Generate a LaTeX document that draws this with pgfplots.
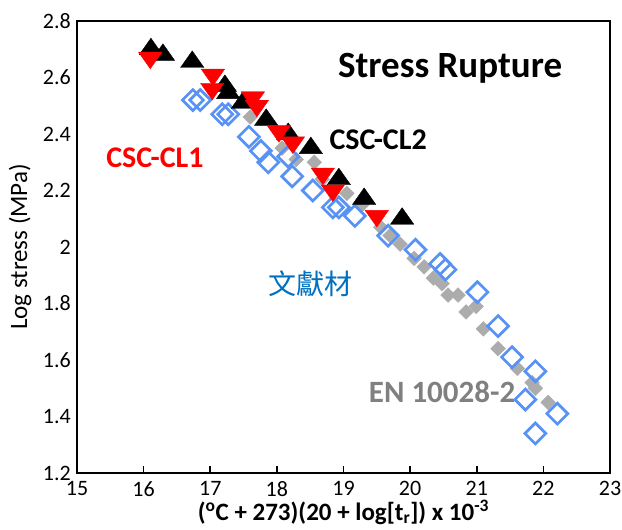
\documentclass[border=0pt]{standalone}
\usepackage{pgfplots}
\pgfplotsset{compat=1.18}
\usepackage{fontspec}
\setmainfont{Carlito}
\newfontfamily\cjk{Noto Sans CJK TC}
\definecolor{dblue}{RGB}{88,146,245}
\definecolor{egray}{RGB}{172,172,172}
\definecolor{tblue}{RGB}{0,112,192}
\definecolor{tgray}{RGB}{128,128,128}

\pgfplotstableread{
x y
17.60 2.46
18.08 2.35
18.29 2.31
18.56 2.30
18.68 2.24
19.05 2.19
19.28 2.15
19.56 2.07
19.70 2.04
19.85 2.01
20.06 1.96
20.21 1.93
20.35 1.89
20.48 1.87
20.57 1.83
20.72 1.83
20.84 1.77
20.99 1.79
21.10 1.71
21.32 1.64
21.61 1.57
21.83 1.52
21.88 1.50
22.07 1.45
}\engray

\pgfplotstableread{
x y
16.74 2.52
16.85 2.52
17.18 2.47
17.27 2.47
17.58 2.39
17.76 2.34
17.87 2.30
18.17 2.32
18.23 2.25
18.54 2.20
18.84 2.14
18.93 2.14
19.17 2.11
19.67 2.04
20.08 1.99
20.45 1.94
20.53 1.92
21.01 1.84
21.32 1.72
21.53 1.61
21.88 1.56
21.73 1.46
22.21 1.41
21.88 1.34
}\lit

\pgfplotstableread{
x y
16.11 2.70
16.29 2.68
16.73 2.655
17.22 2.57
17.27 2.545
17.49 2.51
17.84 2.45
18.17 2.40
18.51 2.35
18.93 2.24
19.31 2.17
19.88 2.10
}\cltwo

\pgfplotstableread{
x y
16.10 2.67
17.04 2.61
17.03 2.56
17.64 2.53
17.70 2.50
18.03 2.41
18.24 2.37
18.69 2.26
18.84 2.20
19.50 2.11
}\clone

\begin{document}
\begin{tikzpicture}
\begin{axis}[
  scale only axis, width=533pt, height=452pt,
  xmin=15, xmax=23, ymin=1.2, ymax=2.8,
  xtick={15,16,17,18,19,20,21,22,23},
  ytick={1.2,1.4,1.6,1.8,2,2.2,2.4,2.6,2.8},
  yticklabels={1.2,1.4,1.6,1.8,2,2.2,2.4,2.6,2.8},
  /pgf/number format/assume math mode=true,
  tick label style={font=\fontsize{22}{24}\selectfont, inner sep=0pt},
  xticklabel style={yshift=-8pt},
  yticklabel style={xshift=-6pt},
  xtick pos=bottom, ytick pos=left,
  tick align=inside, major tick length=7pt,
  ytick style={draw=none},
  xtick style={line width=1.6pt, black},
  axis line style={line width=1.8pt},
  xlabel={(\textsuperscript{o}C + 273)(20 + log[t\textsubscript{r}]) x 10\textsuperscript{-3}},
  ylabel={Log stress (MPa)},
  xlabel style={font=\fontsize{25}{27}\selectfont\bfseries, inner sep=0pt, yshift=-3pt},
  ylabel style={font=\fontsize{25}{28}\selectfont, yshift=8pt},
  clip=false,
]
\addplot[only marks, mark=square*, mark size=5.2pt,
  mark options={rotate=45, fill=egray, draw=egray}] table {\engray};
\addplot[only marks, mark=square, mark size=7.4pt,
  mark options={rotate=45, draw=dblue, line width=2.7pt}] table {\lit};
\addplot[only marks, mark=triangle*, mark size=13.5pt,
  mark options={yscale=0.82, fill=black, draw=black}] table {\cltwo};
\addplot[only marks, mark=triangle*, mark size=13.5pt,
  mark options={rotate=180, yscale=0.82, fill=red, draw=red}] table {\clone};

\node[font=\fontsize{37}{40}\selectfont\bfseries] at (axis cs:20.60,2.634) {Stress Rupture};
\node[font=\fontsize{30}{33}\selectfont\bfseries] at (axis cs:19.52,2.379) {CSC-CL2};
\node[font=\fontsize{30}{33}\selectfont\bfseries, text=red] at (axis cs:16.17,2.315) {CSC-CL1};
\node[font=\fontsize{28}{31}\selectfont\cjk, text=tblue] at (axis cs:18.50,1.869) {文獻材};
\node[font=\fontsize{31}{34}\selectfont\bfseries, text=tgray] at (axis cs:20.48,1.487) {EN 10028-2};
\end{axis}
\pgfresetboundingbox
\path (current axis.south west) ++(-77pt,-57pt) rectangle ++(622pt,530pt);
\end{tikzpicture}
\end{document}
